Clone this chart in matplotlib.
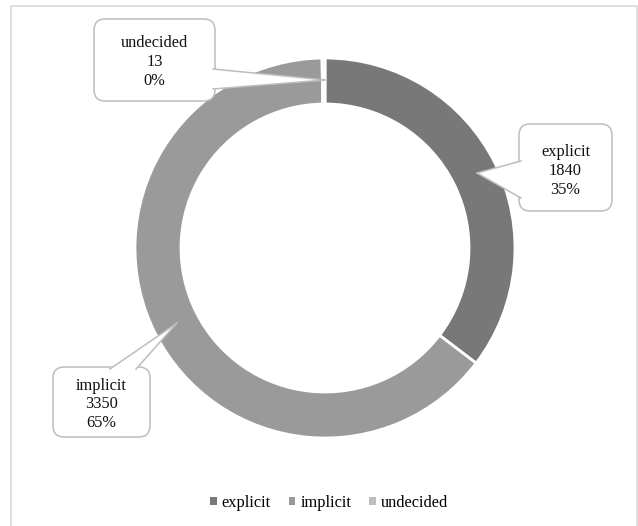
import matplotlib
matplotlib.use("Agg")
import matplotlib.pyplot as plt
from matplotlib.patches import FancyBboxPatch, Polygon, Rectangle, Patch
from matplotlib.lines import Line2D

plt.rcParams['font.family'] = ['Liberation Serif', 'DejaVu Serif']

categories = ["explicit", "implicit", "undecided"]
counts = [1840, 3350, 13]
percent_labels = ["35%", "65%", "0%"]
colors = ["#787878", "#9a9a9a", "#bdbdbd"]

W, H = 638, 526
fig = plt.figure(figsize=(W / 100, H / 100), dpi=100)
ax = fig.add_axes([0, 0, 1, 1])

def Y(y):
    return H - y

cx, cy, r_out, ring = 325, Y(248), 190, 46

ax.pie(counts, colors=colors, startangle=90, counterclock=False,
       center=(cx, cy), radius=r_out,
       wedgeprops=dict(width=ring, edgecolor="white", linewidth=2))
ax.set_xlim(0, W)
ax.set_ylim(0, H)
ax.set_aspect("equal")
ax.axis("off")

# outer chart border
ax.add_patch(Rectangle((11, Y(540)), 626, 534, fill=False,
                       edgecolor="#d9d9d9", linewidth=1.2, zorder=1))

edge = "#bdbdbd"

def callout(box, tip, base, lines):
    x0, y0, x1, y1 = box
    bx = FancyBboxPatch((x0, Y(y1)), x1 - x0, y1 - y0,
                        boxstyle="round,pad=0,rounding_size=11",
                        facecolor="white", edgecolor=edge, linewidth=1.1, zorder=5)
    ax.add_patch(bx)
    (bx0, by0), (bx1, by1) = base
    tri = Polygon([(tip[0], Y(tip[1])), (bx0, Y(by0)), (bx1, Y(by1))],
                  closed=True, facecolor="white", edgecolor="none", zorder=6)
    ax.add_patch(tri)
    for (px, py) in base:
        ax.add_line(Line2D([tip[0], px], [Y(tip[1]), Y(py)], color=edge,
                           linewidth=1.1, zorder=7))
    mx = (x0 + x1) / 2
    for txt, ty in lines:
        ax.text(mx, Y(ty), txt, ha="center", va="center", fontsize=11.8,
                color="#111111", zorder=8)

callout((94, 19, 215, 101), (325, 80), [(213, 69), (213, 89)],
        [(categories[2], 43), (str(counts[2]), 62), (percent_labels[2], 81)])
callout((519, 124, 612, 211), (477, 173), [(521, 161), (521, 198)],
        [(categories[0], 152), (str(counts[0]), 171), (percent_labels[0], 190)])
callout((53, 367, 150, 437), (177, 323), [(110, 369), (136, 369)],
        [(categories[1], 386), (str(counts[1]), 404), (percent_labels[1], 423)])

handles = [Patch(facecolor=c, edgecolor="none") for c in colors]
fig.legend(handles, categories, loc="center", bbox_to_anchor=(329 / W, 1 - 503 / H),
           ncol=3, frameon=False, fontsize=11.8, handlelength=0.4, handleheight=0.4,
           handletextpad=0.3, columnspacing=1.1)

fig.savefig("out.png", dpi=100)
